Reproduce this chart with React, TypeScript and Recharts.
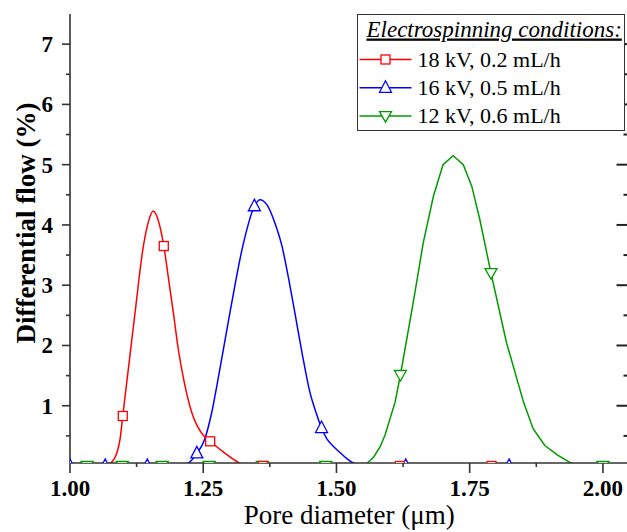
import React from "react";
import { ComposedChart, Line, Scatter, XAxis, YAxis, Legend, ReferenceLine } from "recharts";

const SERIF = '"Liberation Serif", "Times New Roman", Times, serif';
const AXIS = "#333";
const PLOT_RIGHT = 628.5;
const X_MAX = 2.048;

const xTicks = [1, 1.125, 1.25, 1.375, 1.5, 1.625, 1.75, 1.875, 2];
const yTicks = [0.5, 1, 1.5, 2, 2.5, 3, 3.5, 4, 4.5, 5, 5.5, 6, 6.5, 7];

// 18 kV, 0.2 mL/h
const redX = [1.0, 1.032, 1.06, 1.07, 1.08, 1.088, 1.094, 1.099, 1.11, 1.122, 1.1375, 1.148, 1.156, 1.164, 1.176, 1.185, 1.194, 1.203, 1.213, 1.228, 1.25, 1.263, 1.288, 1.316, 1.335, 1.362, 1.48, 1.619, 1.791, 2.0, 2.048];
const redY = [0, 0, 0, 0.03, 0.08, 0.22, 0.45, 0.83, 1.65, 2.54, 3.64, 4.08, 4.23, 4.12, 3.65, 3.1, 2.54, 1.95, 1.45, 0.9, 0.51, 0.41, 0.23, 0.06, 0, 0, 0, 0, 0, 0, 0];
const redMarks = [1.099, 1.176, 1.263, 1.362, 1.619, 1.791];

// 16 kV, 0.5 mL/h
const blueX = [1.0, 1.066, 1.145, 1.2, 1.222, 1.238, 1.253, 1.265, 1.278, 1.3, 1.324, 1.346, 1.356, 1.37, 1.385, 1.398, 1.41, 1.422, 1.436, 1.45, 1.462, 1.472, 1.482, 1.495, 1.507, 1.52, 1.532, 1.55, 1.63, 1.824, 2.048];
const blueY = [0, 0, 0, 0, 0.05, 0.21, 0.45, 0.85, 1.45, 2.54, 3.64, 4.31, 4.42, 4.33, 4.02, 3.64, 3.12, 2.54, 1.85, 1.23, 0.88, 0.63, 0.45, 0.32, 0.22, 0.12, 0.05, 0, 0, 0, 0];
const blueMarks = [1.0, 1.066, 1.145, 1.238, 1.346, 1.472, 1.63, 1.824];

// 12 kV, 0.6 mL/h
const greenX = [1.0, 1.032, 1.098, 1.173, 1.261, 1.361, 1.48, 1.545, 1.558, 1.57, 1.582, 1.591, 1.61, 1.62, 1.644, 1.663, 1.682, 1.7, 1.719, 1.738, 1.754, 1.769, 1.79, 1.819, 1.851, 1.869, 1.891, 1.915, 1.938, 1.955, 2.0, 2.048];
const greenY = [0, 0, 0, 0, 0, 0, 0, 0, 0.05, 0.15, 0.32, 0.51, 1.06, 1.51, 2.71, 3.71, 4.48, 5.0, 5.15, 5.0, 4.64, 4.09, 3.2, 2.05, 1.06, 0.62, 0.34, 0.18, 0.06, 0, 0, 0];
const greenMarks = [1.032, 1.098, 1.173, 1.261, 1.361, 1.48, 1.62, 1.79, 2.0];

const toPoints = (xs: number[], ys: number[]) => xs.map((x, i) => ({ x, y: ys[i] }));
const toMarks = (marks: number[], xs: number[], ys: number[]) =>
  marks.map((x) => ({ x, y: ys[xs.indexOf(x)] }));

const red = { name: "18 kV, 0.2 mL/h", color: "#ff0000", shape: "square", curve: "monotone", xs: redX, ys: redY, marks: redMarks };
const blue = { name: "16 kV, 0.5 mL/h", color: "#0000ff", shape: "up", curve: "monotone", xs: blueX, ys: blueY, marks: blueMarks };
const green = { name: "12 kV, 0.6 mL/h", color: "#009a00", shape: "down", curve: "linear", xs: greenX, ys: greenY, marks: greenMarks };

const drawOrder = [green, blue, red];
const legendOrder = [red, blue, green];

const Marker = ({ shape, cx, cy, color }: any) => {
  if (shape === "square")
    return <rect x={cx - 4.5} y={cy - 4.5} width={9} height={9} fill="#fff" stroke={color} strokeWidth={1.3} />;
  if (shape === "up")
    return <polygon points={`${cx},${cy - 7} ${cx - 6},${cy + 4.5} ${cx + 6},${cy + 4.5}`} fill="#fff" stroke={color} strokeWidth={1.3} />;
  return <polygon points={`${cx - 6},${cy - 4.5} ${cx + 6},${cy - 4.5} ${cx},${cy + 6}`} fill="#fff" stroke={color} strokeWidth={1.3} />;
};

const BottomTick = (props: any) => {
  const { x, y, payload } = props;
  const v = payload.value;
  const major = Math.abs(v * 4 - Math.round(v * 4)) < 1e-6;
  return (
    <g>
      <line x1={x} x2={x} y1={y} y2={y + (major ? 10 : 4)} stroke={AXIS} strokeWidth={1.6} />
      {major && (
        <text x={x} y={y + 33} textAnchor="middle" fontFamily={SERIF} fontWeight="bold" fontSize={23} fill="#000">
          {v.toFixed(2)}
        </text>
      )}
    </g>
  );
};

const LeftTick = (props: any) => {
  const { x, y, payload } = props;
  const major = Number.isInteger(payload.value);
  return (
    <g>
      <line x1={x} x2={x - (major ? 8 : 4)} y1={y} y2={y} stroke={AXIS} strokeWidth={1.6} />
      {major && (
        <text x={x - 17} y={y + 8} textAnchor="end" fontFamily={SERIF} fontWeight="bold" fontSize={23} fill="#000">
          {payload.value}
        </text>
      )}
    </g>
  );
};

const LegendBox = () => (
  <div style={{ width: 268, height: 117, boxSizing: "border-box", border: `1.5px solid ${AXIS}`, background: "#fff" }}>
    <svg width={265} height={114} style={{ display: "block" }}>
      <text x={8.5} y={21.5} fontFamily={SERIF} fontStyle="italic" fontSize={23} textDecoration="underline" fill="#000">
        Electrospinning conditions:
      </text>
      {legendOrder.map((s, i) => {
        const cy = 44.5 + i * 28.3;
        return (
          <g key={s.name}>
            <line x1={1.5} x2={53.5} y1={cy} y2={cy} stroke={s.color} strokeWidth={1.5} />
            <Marker shape={s.shape} cx={27.5} cy={cy} color={s.color} />
            <text x={59.5} y={cy + 7} fontFamily={SERIF} fontSize={22} fill="#000">
              {s.name}
            </text>
          </g>
        );
      })}
    </svg>
  </div>
);

export default function App() {
  // inward ticks of the right frame edge, which sits just outside the picture
  const pxPerUnit = (PLOT_RIGHT - 70) / (X_MAX - 1);
  return (
    <div style={{ position: "absolute", left: 0, top: 0, width: 627, height: 532, overflow: "hidden", background: "#fff" }}>
      <ComposedChart width={640} height={532} margin={{ top: 14, right: 640 - PLOT_RIGHT, bottom: 0, left: 0 }}>
        <XAxis
          type="number"
          dataKey="x"
          domain={[1, X_MAX]}
          ticks={xTicks}
          interval={0}
          allowDataOverflow
          height={69}
          tickSize={0}
          tickMargin={0}
          tickLine={false}
          tick={<BottomTick />}
          axisLine={{ stroke: AXIS, strokeWidth: 1.6 }}
          label={() => (
            <text x={349.3} y={524} textAnchor="middle" fontFamily={SERIF} fontSize={27} fill="#000">
              Pore diameter (μm)
            </text>
          )}
        />
        <XAxis
          xAxisId="top"
          orientation="top"
          type="number"
          dataKey="x"
          domain={[1, X_MAX]}
          allowDataOverflow
          height={0}
          tick={false}
          tickLine={false}
          axisLine={{ stroke: AXIS, strokeWidth: 1.6 }}
        />
        <YAxis
          type="number"
          dataKey="y"
          domain={[0.05, 7.5]}
          ticks={yTicks}
          interval={0}
          allowDataOverflow
          width={70}
          tickSize={0}
          tickMargin={0}
          tickLine={false}
          tick={<LeftTick />}
          axisLine={{ stroke: AXIS, strokeWidth: 1.6 }}
          label={() => (
            <text
              transform="translate(35,223) rotate(-90)"
              textAnchor="middle"
              fontFamily={SERIF}
              fontWeight="bold"
              fontSize={27}
              fill="#000"
            >
              Differential flow (%)
            </text>
          )}
        />
        {yTicks.map((v) => (
          <ReferenceLine
            key={`rt-${v}`}
            segment={[
              { x: X_MAX - (Number.isInteger(v) ? 12 : 5) / pxPerUnit, y: v },
              { x: X_MAX, y: v },
            ]}
            stroke="#222"
            strokeWidth={2}
            ifOverflow="visible"
          />
        ))}
        <Legend
          layout="vertical"
          align="center"
          verticalAlign="middle"
          content={<LegendBox />}
          wrapperStyle={{ left: 357, top: 14, width: 268, height: 117 }}
        />
        {drawOrder.map((s) => (
          <Line
            key={`line-${s.name}`}
            data={toPoints(s.xs, s.ys)}
            dataKey="y"
            type={s.curve as any}
            stroke={s.color}
            strokeWidth={1.5}
            dot={false}
            activeDot={false}
            isAnimationActive={false}
          />
        ))}
        {drawOrder.map((s) => (
          <Scatter
            key={`marks-${s.name}`}
            data={toMarks(s.marks, s.xs, s.ys)}
            dataKey="y"
            legendType="none"
            isAnimationActive={false}
            shape={(p: any) => <Marker shape={s.shape} cx={p.cx} cy={p.cy} color={s.color} />}
          />
        ))}
      </ComposedChart>
    </div>
  );
}
